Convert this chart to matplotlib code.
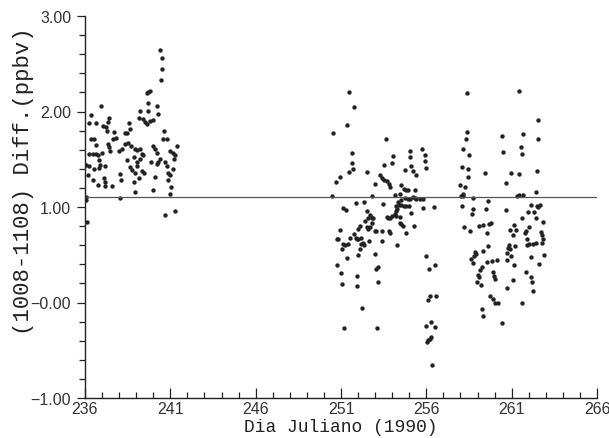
import matplotlib
matplotlib.use("Agg")
import matplotlib.pyplot as plt
from matplotlib.ticker import MultipleLocator

# dia juliano / diferenca (ppbv)
dias_a = [236.96, 236.37, 236.25, 236.64, 237.42, 237.35, 237.04, 237.23, 237.29, 237.68,
          236.35, 236.55, 236.64, 237.64, 237.83, 237.35, 237.39, 237.48, 236.25, 236.45,
          236.64, 236.74, 236.06, 236.22, 236.18, 236.51, 236.84, 236.90, 236.80, 237.00,
          237.19, 236.47, 236.76, 237.09, 237.15, 237.19, 237.58, 238.01, 238.17, 238.32,
          238.46, 238.56, 238.65, 238.36, 238.52, 238.71, 238.46, 238.91, 239.05, 239.24,
          238.85, 239.05, 238.65, 238.75, 238.91, 238.85, 238.07, 238.13, 238.91, 236.06,
          236.06, 238.07, 236.10, 239.24, 239.14,
          240.39, 240.53, 240.49, 240.45, 239.62, 239.72, 239.82, 239.71, 240.20, 239.71,
          240.29, 239.42, 239.52, 239.61, 239.81, 240.00, 240.65, 240.59, 240.82, 241.37,
          239.32, 240.00, 240.10, 240.20, 240.98, 241.17, 241.27, 241.23, 239.42, 239.22,
          240.39, 240.29, 240.20, 239.87, 240.69, 240.78, 239.32, 239.47, 240.88, 240.98,
          241.17, 240.10, 239.16, 240.84, 241.04, 240.00, 240.98, 240.69, 241.27, 239.03]
vals_a = [2.06, 1.96, 1.88, 1.88, 1.93, 1.89, 1.85, 1.84, 1.80, 1.79,
          1.71, 1.71, 1.65, 1.71, 1.72, 1.66, 1.63, 1.59, 1.55, 1.55,
          1.55, 1.54, 1.44, 1.43, 1.34, 1.40, 1.49, 1.44, 1.41, 1.57,
          1.43, 1.28, 1.23, 1.30, 1.26, 1.22, 1.22, 1.59, 1.61, 1.78,
          1.78, 1.88, 1.82, 1.66, 1.67, 1.64, 1.49, 1.61, 1.60, 1.61,
          1.52, 1.47, 1.42, 1.39, 1.36, 1.26, 1.35, 1.28, 1.16, 1.10,
          1.07, 1.09, 0.84, 2.01, 1.93,
          2.64, 2.56, 2.45, 2.33, 2.19, 2.20, 2.21, 2.09, 2.06, 2.01,
          1.97, 1.92, 1.89, 1.87, 1.90, 1.91, 1.80, 1.71, 1.71, 1.64,
          1.56, 1.64, 1.61, 1.57, 1.59, 1.57, 1.54, 1.50, 1.54, 1.50,
          1.50, 1.47, 1.45, 1.47, 1.47, 1.43, 1.38, 1.36, 1.36, 1.33,
          1.40, 1.31, 1.30, 1.28, 1.21, 1.18, 1.14, 0.92, 0.96, 1.43]

dias_b = [251.47, 251.76, 250.55, 251.33, 253.61, 251.62, 251.62, 251.47, 251.72, 252.54,
          253.53, 250.68, 250.94, 253.28, 253.38, 253.53, 253.67, 252.99, 250.49, 252.83,
          251.13, 251.27, 251.86, 252.34, 253.48, 253.67, 252.51, 252.60, 252.70, 252.80,
          252.89, 252.40, 252.50, 252.60, 252.70, 252.80, 252.11, 252.01, 250.94, 252.99,
          253.08, 250.74, 250.84, 251.52, 251.78, 251.88, 251.96, 252.01, 252.20, 253.38,
          252.66, 253.38, 251.13, 251.23, 251.39, 251.03, 252.17, 252.27, 252.36, 252.11,
          251.37, 252.01, 252.99, 250.78, 253.08, 253.18, 250.98, 251.91, 251.07, 251.95,
          253.15, 252.24, 251.19, 253.09,
          254.04, 254.00, 255.06, 255.02, 255.76, 255.90, 255.90, 255.96, 254.73, 255.12,
          255.22, 255.37, 253.81, 253.89, 254.53, 254.67, 254.82, 254.92, 255.31, 254.14,
          254.44, 254.34, 254.53, 254.73, 254.92, 255.02, 255.22, 255.31, 255.41, 255.61,
          255.80, 254.24, 254.39, 254.53, 254.67, 254.82, 254.98, 254.20, 254.28, 255.80,
          256.43, 255.12, 253.75, 253.85, 254.00, 254.14, 254.24, 254.47, 254.44, 254.53,
          254.63, 255.25, 253.81, 253.85, 254.82, 254.30, 255.96, 256.13, 256.49, 256.55,
          256.19, 256.09, 256.00, 256.29, 256.49, 256.09, 256.19, 256.25, 256.04, 256.35]
vals_b = [2.20, 2.05, 1.78, 1.86, 1.71, 1.57, 1.46, 1.37, 1.40, 1.37,
          1.44, 1.26, 1.31, 1.33, 1.30, 1.28, 1.27, 1.24, 1.11, 1.12,
          0.99, 0.97, 1.04, 1.05, 1.03, 0.90, 0.96, 0.89, 0.92, 0.89,
          0.88, 0.85, 0.79, 0.77, 0.79, 0.83, 0.80, 0.77, 0.76, 0.75,
          0.75, 0.67, 0.66, 0.68, 0.72, 0.68, 0.66, 0.67, 0.68, 0.75,
          0.64, 0.64, 0.61, 0.60, 0.61, 0.56, 0.61, 0.62, 0.60, 0.56,
          0.47, 0.50, 0.51, 0.39, 0.35, 0.37, 0.31, 0.28, 0.19, 0.17,
          0.21, -0.06, -0.27, -0.27,
          1.53, 1.46, 1.59, 1.52, 1.61, 1.54, 1.48, 1.41, 1.39, 1.43,
          1.38, 1.33, 1.24, 1.21, 1.23, 1.19, 1.18, 1.18, 1.18, 1.13,
          1.14, 1.05, 1.07, 1.09, 1.08, 1.08, 1.10, 1.09, 1.08, 1.08,
          1.08, 1.01, 1.02, 1.02, 1.01, 1.01, 1.01, 0.96, 0.98, 0.99,
          1.00, 0.94, 0.89, 0.89, 0.91, 0.93, 0.91, 0.90, 0.83, 0.82,
          0.80, 0.80, 0.75, 0.73, 0.73, 0.60, 0.49, 0.35, 0.39, 0.07,
          0.07, 0.03, -0.25, -0.20, -0.26, -0.39, -0.38, -0.36, -0.41, -0.65]

dias_c = [258.36, 258.36, 258.30, 258.16, 258.51, 258.07, 258.46, 258.46, 259.43, 260.41,
          260.47, 257.97, 258.26, 258.01, 258.16, 258.12, 258.71, 259.63, 258.10, 258.71,
          259.49, 258.65, 258.20, 258.55, 259.10, 259.33, 259.68, 259.77, 259.57, 258.85,
          258.91, 258.79, 259.33, 259.63, 258.60, 258.75, 259.53, 259.82, 260.12, 259.24,
          259.14, 259.04, 259.10, 259.88, 259.98, 260.02, 258.98, 259.20, 259.73, 259.92,
          260.02, 260.21, 259.24, 259.30, 260.41,
          261.44, 262.56, 261.64, 262.52, 261.52, 261.58, 260.99, 261.42, 262.46, 260.64,
          261.29, 261.42, 261.67, 262.42, 260.66, 262.11, 262.46, 262.56, 262.66, 261.97,
          262.32, 262.42, 261.58, 262.85, 261.13, 260.90, 261.25, 261.05, 262.03, 261.84,
          261.78, 262.70, 262.75, 262.81, 262.75, 261.87, 262.03, 261.91, 262.26, 262.42,
          260.84, 260.90, 261.19, 260.80, 260.99, 260.70, 260.74, 262.13, 262.89, 261.13,
          262.61, 261.84, 262.11, 261.09, 262.17, 260.74, 262.23, 261.58]
vals_c = [2.19, 1.79, 1.71, 1.61, 1.54, 1.42, 1.40, 1.31, 1.36, 1.74,
          1.58, 1.23, 1.21, 1.12, 1.11, 1.14, 1.09, 1.06, 1.01, 0.98,
          0.98, 0.93, 0.79, 0.75, 0.80, 0.81, 0.82, 0.83, 0.73, 0.53,
          0.51, 0.49, 0.54, 0.59, 0.46, 0.41, 0.42, 0.43, 0.44, 0.37,
          0.34, 0.29, 0.27, 0.32, 0.28, 0.25, 0.21, 0.18, 0.07, 0.04,
          0.00, -0.01, -0.07, -0.14, -0.21,
          2.21, 1.91, 1.76, 1.71, 1.63, 1.55, 1.36, 1.35, 1.38, 1.25,
          1.12, 1.13, 1.13, 1.16, 0.97, 1.02, 1.01, 1.00, 1.02, 0.95,
          0.95, 0.89, 0.88, 0.84, 0.81, 0.76, 0.76, 0.71, 0.79, 0.75,
          0.73, 0.74, 0.71, 0.66, 0.62, 0.66, 0.61, 0.60, 0.61, 0.62,
          0.60, 0.56, 0.59, 0.57, 0.49, 0.52, 0.45, 0.48, 0.50, 0.39,
          0.40, 0.32, 0.27, 0.24, 0.21, 0.15, 0.12, -0.01]

media = 1.10
xticks = [236, 241, 246, 251, 256, 261, 266]
yticks = [-1.0, 0.0, 1.0, 2.0, 3.0]
ytick_labels = ["\u22121.00", "\u22120.00", "1.00", "2.00", "3.00"]

fig = plt.figure(figsize=(6.09, 4.39), dpi=100)
ax = fig.add_axes([85 / 609, 1 - 399 / 439, 512 / 609, 382 / 439])

cor = "#222222"
for d, v in [(dias_a, vals_a), (dias_b, vals_b), (dias_c, vals_c)]:
    ax.scatter(d, v, s=10, color=cor, linewidths=0)

ax.axhline(media, color="#555555", lw=0.9)

ax.set_xlim(236, 266)
ax.set_ylim(-1, 3)
ax.set_xticks(xticks)
ax.set_yticks(yticks)
ax.set_yticklabels(ytick_labels)
ax.xaxis.set_minor_locator(MultipleLocator(1))
ax.yaxis.set_minor_locator(MultipleLocator(0.2))

for s in ["top", "right"]:
    ax.spines[s].set_visible(False)
for s in ["left", "bottom"]:
    ax.spines[s].set_color(cor)
    ax.spines[s].set_linewidth(1.0)

ax.tick_params(axis="x", which="major", direction="in", length=7, width=0.9, color=cor, pad=2)
ax.tick_params(axis="x", which="minor", direction="in", length=4, width=0.9, color=cor)
ax.tick_params(axis="y", which="major", direction="out", length=6, width=0.9, color=cor, pad=4)
ax.tick_params(axis="y", which="minor", direction="out", length=4, width=0.9, color=cor)
for lab in ax.get_xticklabels() + ax.get_yticklabels():
    lab.set_fontfamily("Liberation Sans")
    lab.set_fontsize(11.5)
    lab.set_color("#333333")

ax.set_xlabel("Dia Juliano (1990)", fontfamily="Liberation Mono", fontsize=13, color=cor)
ax.xaxis.set_label_coords(0.5, -0.053)
ax.set_ylabel("(1008-1108) Diff.(ppbv)", fontfamily="Liberation Mono", fontsize=16, color=cor)
ax.yaxis.set_label_coords(-0.10, 0.57)

fig.savefig("out.png", dpi=100)
